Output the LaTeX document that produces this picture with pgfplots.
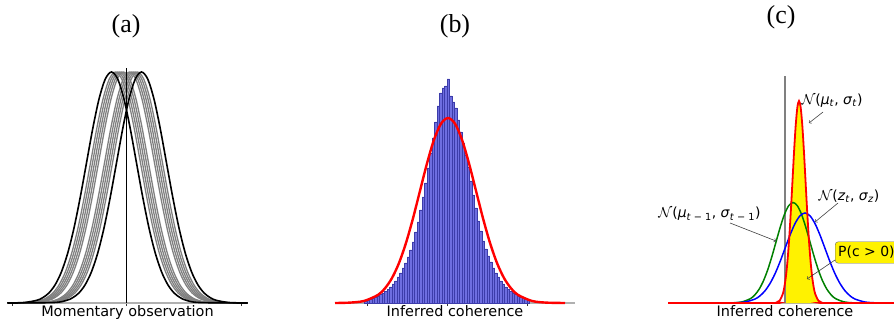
\documentclass[border=0pt]{standalone}
\usepackage{pgfplots}
\pgfplotsset{compat=1.18}
\usepackage{pgfplotstable}
\usepackage{fontspec}
\setmainfont{DejaVu Sans}
\newfontfamily\titlefont{Liberation Serif}
\definecolor{histfill}{RGB}{110,110,225}
\definecolor{histedge}{RGB}{60,60,170}
\definecolor{axgray}{RGB}{176,176,176}
\definecolor{mgreen}{RGB}{0,128,0}
\newcommand{\annfont}{\fontsize{14}{16}\selectfont}

% panel (a): curves sharing the same heights (columns = x of each curve)
\pgfplotstableread{
y xa xb xc xd xe xf xg xh xi xj xk xl
0 -119 -119 -119 -119 -119 -119 -119 -119 -119 -119 -119 -119
0.5 -102.5 -72.5 -98.5 -76.5 -94.5 -80.5 -90.5 -84.5 -96.5 -78.5 -92.5 -82.5
2.6 -90 -60 -86 -64 -82 -68 -78 -72 -84 -66 -80 -70
5.3 -83.75 -53.75 -79.75 -57.75 -75.75 -61.75 -71.75 -65.75 -77.75 -59.75 -73.75 -63.75
10.1 -77.5 -47.5 -73.5 -51.5 -69.5 -55.5 -65.5 -59.5 -71.5 -53.5 -67.5 -57.5
18.4 -71.25 -41.25 -67.25 -45.25 -63.25 -49.25 -59.25 -53.25 -65.25 -47.25 -61.25 -51.25
31.3 -65 -35 -61 -39 -57 -43 -53 -47 -59 -41 -55 -45
50.0 -58.75 -28.75 -54.75 -32.75 -50.75 -36.75 -46.75 -40.75 -52.75 -34.75 -48.75 -38.75
75.0 -52.5 -22.5 -48.5 -26.5 -44.5 -30.5 -40.5 -34.5 -46.5 -28.5 -42.5 -32.5
105.8 -46.25 -16.25 -42.25 -20.25 -38.25 -24.25 -34.25 -28.25 -40.25 -22.25 -36.25 -26.25
140.1 -40 -10 -36 -14 -32 -18 -28 -22 -34 -16 -30 -20
174.4 -33.75 -3.75 -29.75 -7.75 -25.75 -11.75 -21.75 -15.75 -27.75 -9.75 -23.75 -13.75
203.9 -27.5 2.5 -23.5 -1.5 -19.5 -5.5 -15.5 -9.5 -21.5 -3.5 -17.5 -7.5
223.9 -21.25 8.75 -17.25 4.75 -13.25 0.75 -9.25 -3.25 -15.25 2.75 -11.25 -1.25
231 -15 15 -11 11 -7 7 -3 3 -9 9 -5 5
223.9 -8.75 21.25 -4.75 17.25 -0.75 13.25 3.25 9.25 -2.75 15.25 1.25 11.25
203.9 -2.5 27.5 1.5 23.5 5.5 19.5 9.5 15.5 3.5 21.5 7.5 17.5
174.4 3.75 33.75 7.75 29.75 11.75 25.75 15.75 21.75 9.75 27.75 13.75 23.75
140.1 10 40 14 36 18 32 22 28 16 34 20 30
105.8 16.25 46.25 20.25 42.25 24.25 38.25 28.25 34.25 22.25 40.25 26.25 36.25
75.0 22.5 52.5 26.5 48.5 30.5 44.5 34.5 40.5 28.5 46.5 32.5 42.5
50.0 28.75 58.75 32.75 54.75 36.75 50.75 40.75 46.75 34.75 52.75 38.75 48.75
31.3 35 65 39 61 43 57 47 53 41 59 45 55
18.4 41.25 71.25 45.25 67.25 49.25 63.25 53.25 59.25 47.25 65.25 51.25 61.25
10.1 47.5 77.5 51.5 73.5 55.5 69.5 59.5 65.5 53.5 71.5 57.5 67.5
5.3 53.75 83.75 57.75 79.75 61.75 75.75 65.75 71.75 59.75 77.75 63.75 73.75
2.6 60 90 64 86 68 82 72 78 66 84 70 80
0.5 72.5 102.5 76.5 98.5 80.5 94.5 84.5 90.5 78.5 96.5 82.5 92.5
0 121 121 121 121 121 121 121 121 121 121 121 121
}\curvesA

% panel (b): histogram
\pgfplotstableread{
x y
-81.25 2
-78.75 3
-76.25 4
-73.75 5
-71.25 6
-68.75 7
-66.25 8.5
-63.75 10
-61.25 11.5
-58.75 13.5
-56.25 16
-53.75 19
-51.25 22
-48.75 26
-46.25 30
-43.75 35
-41.25 40
-38.75 46
-36.25 53
-33.75 61
-31.25 71
-28.75 81
-26.25 93
-23.75 106
-21.25 120
-18.75 135
-16.25 150
-13.75 165
-11.25 181
-8.75 197
-6.25 210
-3.75 215
-1.25 217
1.25 224
3.75 207
6.25 201
8.75 195
11.25 183
13.75 171
16.25 160
18.75 148
21.25 136
23.75 122
26.25 108
28.75 95
31.25 82
33.75 72
36.25 62
38.75 54
41.25 47
43.75 41
46.25 35
48.75 30
51.25 26
53.75 22
56.25 19
58.75 16
61.25 13.5
63.75 11.5
66.25 10
68.75 8.5
71.25 7
73.75 6
76.25 5
78.75 4
81.25 3
}\histB

\pgfplotsset{
  panel/.style={
    scale only axis, clip=false,
    axis x line*=bottom, axis y line=none,
    x axis line style={axgray, line width=1.5bp},
    xticklabels={}, tick align=outside, major tick length=3bp,
    tick style={black!80, line width=0.6bp},
    ymin=0,
    every axis x label/.style={at={(axis description cs:0.5,0)}, anchor=base, yshift=-13bp, font=\fontsize{14.5}{17}\selectfont},
  },
  graycurve/.style={black!50, line width=1.3bp, smooth},
}

\begin{document}
\begin{tikzpicture}
\path[use as bounding box] (0,0) rectangle (894bp,321bp);

% ---------------- (a)
\begin{axis}[panel, at={(7bp,18bp)}, anchor=south west, width=241bp, height=235bp,
  xmin=-119.5, xmax=121.5, ymax=235, xtick={-114.5,0,114.5}, xlabel={Momentary observation}]
\addplot[graycurve] table[x=xc, y=y]{\curvesA};
\addplot[graycurve] table[x=xd, y=y]{\curvesA};
\addplot[graycurve] table[x=xi, y=y]{\curvesA};
\addplot[graycurve] table[x=xj, y=y]{\curvesA};
\addplot[graycurve] table[x=xe, y=y]{\curvesA};
\addplot[graycurve] table[x=xf, y=y]{\curvesA};
\addplot[graycurve] table[x=xk, y=y]{\curvesA};
\addplot[graycurve] table[x=xl, y=y]{\curvesA};
\addplot[graycurve] table[x=xg, y=y]{\curvesA};
\addplot[graycurve] table[x=xh, y=y]{\curvesA};
\addplot[black, line width=1.6bp, smooth] table[x=xa, y=y]{\curvesA};
\addplot[black, line width=1.6bp, smooth] table[x=xb, y=y]{\curvesA};
\addplot[black, line width=0.8bp] coordinates {(0,0) (0,235)};
\end{axis}

% ---------------- (b)
\begin{axis}[panel, at={(335bp,18bp)}, anchor=south west, width=240bp, height=224bp,
  xmin=-112, xmax=128, ymax=224, xtick={-80,0,80}, xlabel={Inferred coherence}]
\addplot[ybar, bar width=2.5, bar shift=0pt, fill=histfill, draw=histedge, line width=0.35bp] table[x=x, y=y]{\histB};
\addplot[red, line width=2.4bp, smooth] coordinates {
 (-112,0) (-97,0.4) (-83,2.05) (-69,8.1) (-62,14.7) (-55,25.0) (-48,40.0) (-41,60.1)
 (-34,84.7) (-27,112.2) (-20,139.6) (-13,163.3) (-6,179.3) (1,185) (8,179.3) (15,163.3)
 (22,139.6) (29,112.2) (36,84.7) (43,60.1) (50,40.0) (57,25.0) (64,14.7) (71,8.1)
 (85,2.05) (99,0.4) (118,0)};
\end{axis}

% ---------------- (c)
\begin{axis}[panel, at={(668bp,18bp)}, anchor=south west, width=234bp, height=227bp,
  xmin=-117, xmax=117, ymax=227, xtick=\empty, xlabel={Inferred coherence}]
\addplot[fill=yellow, draw=none] coordinates {
 (0,0) (0,19.9) (1,27.3) (2.625,43.7) (4.25,65.6) (5.875,92.5) (7.5,122.5) (9.125,152.5)
 (10.75,178.3) (12.375,195.8) (14,202) (15.625,195.8) (17.25,178.3) (18.875,152.5)
 (20.5,122.5) (22.125,92.5) (23.75,65.6) (25.375,43.7) (27,27.3) (28.625,16.1)
 (30.25,8.9) (33.5,2.2) (36.75,0.45) (40,0.07) (42,0)} \closedcycle;
\addplot[black!50, line width=1.3bp] coordinates {(0,0) (0,227)};
\addplot[mgreen, line width=1.5bp, smooth] coordinates {
 (-117,0) (-60,0.03) (-51.5,0.22) (-43,1.1) (-34.5,4.4) (-30.25,8.0) (-26,13.6) (-21.75,21.7)
 (-17.5,32.6) (-13.25,46.0) (-9,61.0) (-4.75,75.9) (-0.5,88.7) (3.75,97.4) (8,100.5)
 (12.25,97.4) (16.5,88.7) (20.75,75.9) (25,61.0) (29.25,46.0) (33.5,32.6) (37.75,21.7)
 (42,13.6) (46.25,8.0) (50.5,4.4) (59,1.1) (67.5,0.22) (76,0.03) (117,0)};
\addplot[blue, line width=1.5bp, smooth] coordinates {
 (-117,0) (-60,0.03) (-50,0.2) (-40,1.0) (-30,3.95) (-25,7.2) (-20,12.2) (-15,19.5)
 (-10,29.2) (-5,41.2) (0,54.6) (5,67.9) (10,79.4) (15,87.2) (20,90) (25,87.2) (30,79.4)
 (35,67.9) (40,54.6) (45,41.2) (50,29.2) (55,19.5) (60,12.2) (65,7.2) (70,3.95)
 (80,1.0) (90,0.2) (100,0.03) (117,0)};
\addplot[red, line width=1.8bp, smooth] coordinates {
 (-117,0) (-12,0.07) (-8.75,0.45) (-5.5,2.2) (-2.25,8.9) (-0.625,16.1) (1,27.3)
 (2.625,43.7) (4.25,65.6) (5.875,92.5) (7.5,122.5) (9.125,152.5) (10.75,178.3)
 (12.375,195.8) (14,202) (15.625,195.8) (17.25,178.3) (18.875,152.5) (20.5,122.5)
 (22.125,92.5) (23.75,65.6) (25.375,43.7) (27,27.3) (28.625,16.1) (30.25,8.9)
 (33.5,2.2) (36.75,0.45) (40,0.07) (117,0)};
% annotations
\node[font=\annfont] at (axis cs:47,202) {$\mathcal{N}$(\textit{μ}\textsubscript{\textit{t}}, \textit{σ}\textsubscript{\textit{t}})};
\draw[->, black!75, line width=0.6bp] (axis cs:38,191) -- (axis cs:24,180);
\node[font=\annfont] at (axis cs:64,107) {$\mathcal{N}$(\textit{z}\textsubscript{\textit{t}}, \textit{σ}\textsubscript{\textit{z}})};
\draw[->, black!75, line width=0.6bp] (axis cs:53,100) -- (axis cs:30,81);
\node[font=\annfont] at (axis cs:-75.5,89) {$\mathcal{N}$(\textit{μ}\textsubscript{\textit{t} − 1}, \textit{σ}\textsubscript{\textit{t} − 1})};
\draw[->, black!75, line width=0.6bp] (axis cs:-55,80) -- (axis cs:-9,62);
\node[fill=yellow, draw=black!60, rounded corners=3bp, inner xsep=3bp, inner ysep=4.5bp, anchor=west, font=\annfont] at (axis cs:50,50.5) {P(c > 0)};
\draw[->, black!75, line width=0.6bp] (axis cs:50,43) -- (axis cs:22,24);
\end{axis}

% panel titles
\node[font=\titlefont\fontsize{26}{30}\selectfont] at (126bp,295bp) {(a)};
\node[font=\titlefont\fontsize{26}{30}\selectfont] at (455bp,295bp) {(b)};
\node[font=\titlefont\fontsize{26}{30}\selectfont] at (781bp,303.5bp) {(c)};
\end{tikzpicture}
\end{document}
